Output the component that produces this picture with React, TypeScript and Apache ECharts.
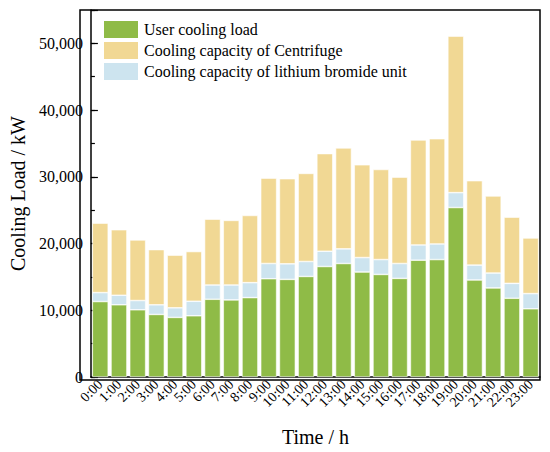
import React, { useEffect, useRef } from "react";
import * as echarts from "echarts";

const hours = ["0:00","1:00","2:00","3:00","4:00","5:00","6:00","7:00","8:00","9:00","10:00","11:00","12:00","13:00","14:00","15:00","16:00","17:00","18:00","19:00","20:00","21:00","22:00","23:00"];
const userLoad = [11310,10820,10070,9375,8930,9180,11650,11560,11900,14730,14630,15070,16560,17010,15730,15370,14780,17510,17600,25400,14540,13350,11800,10220];
const lithiumCapacity = [1340,1430,1390,1445,1440,2170,2140,2230,2240,2280,2330,2240,2290,2190,2170,2230,2230,2280,2340,2230,2230,2230,2230,2280];
const centrifugeCapacity = [10415,9820,9080,8270,7890,7450,9870,9680,10070,12800,12760,13200,14630,15130,13900,13500,12950,15730,15770,23460,12650,11550,9930,8330];

const names = ["User cooling load", "Cooling capacity of Centrifuge", "Cooling capacity of lithium bromide unit"];
const FONT = "'Liberation Serif', 'Times New Roman', serif";

const GRID = { left: 80, right: 10, top: 10, bottom: 72 };
const W = 550;
const H = 452;

export default function App() {
  const ref = useRef<HTMLDivElement>(null);
  useEffect(() => {
    document.body.style.margin = "0";
    const chart = echarts.init(ref.current!, null, { renderer: "svg" });
    chart.setOption({
      animation: false,
      textStyle: { fontFamily: FONT, color: "#000" },
      grid: GRID,
      graphic: [
        {
          type: "rect",
          z: 100,
          silent: true,
          shape: { x: GRID.left, y: GRID.top, width: W - GRID.left - GRID.right, height: H - GRID.top - GRID.bottom },
          style: { fill: "none", stroke: "#000", lineWidth: 1.5 },
        },
      ],
      legend: {
        data: names,
        orient: "vertical",
        left: 97,
        top: 14,
        itemWidth: 36,
        itemHeight: 19,
        itemGap: 0,
        icon: "rect",
        textStyle: { fontFamily: FONT, fontSize: 16, color: "#000" },
      },
      xAxis: {
        type: "category",
        data: hours,
        name: "Time / h",
        nameLocation: "middle",
        nameGap: 50,
        nameTextStyle: { fontFamily: FONT, fontSize: 20, color: "#000" },
        axisLine: { onZero: false, lineStyle: { color: "#000", width: 1.5 } },
        axisTick: { inside: true, alignWithLabel: true, length: 5, lineStyle: { color: "#000", width: 1.2 } },
        axisLabel: { rotate: 45, interval: 0, fontFamily: FONT, fontSize: 14, color: "#000", margin: 5 },
      },
      yAxis: [
        {
          type: "value",
          min: 0,
          max: 55000,
          interval: 5000,
          name: "Cooling Load / kW",
          nameLocation: "middle",
          nameGap: 54,
          nameTextStyle: { fontFamily: FONT, fontSize: 20, color: "#000" },
          splitLine: { show: false },
          axisLine: { show: true, onZero: false, lineStyle: { color: "#000", width: 1.5 } },
          axisTick: { show: true, inside: true, length: 4, lineStyle: { color: "#000", width: 1.2 } },
          axisLabel: {
            fontFamily: FONT,
            fontSize: 16,
            color: "#000",
            margin: 8,
            formatter: (v: number) => (v % 10000 === 0 && v <= 50000 ? v.toLocaleString("en-US") : ""),
          },
        },
        {
          type: "value",
          min: 0,
          max: 55000,
          interval: 10000,
          position: "left",
          splitLine: { show: false },
          axisLine: { show: false },
          axisTick: { show: true, inside: true, length: 7, lineStyle: { color: "#000", width: 1.2 } },
          axisLabel: { show: false },
        },
      ],
      series: [
        {
          name: names[0],
          type: "bar",
          stack: "total",
          data: userLoad,
          barCategoryGap: "15%",
          itemStyle: { color: "#8fbb47", borderColor: "#ffffff", borderWidth: 0.6 },
        },
        {
          name: names[2],
          type: "bar",
          stack: "total",
          data: lithiumCapacity,
          itemStyle: { color: "#cde4ef", borderColor: "#ffffff", borderWidth: 0.6 },
        },
        {
          name: names[1],
          type: "bar",
          stack: "total",
          data: centrifugeCapacity,
          itemStyle: { color: "#f1d894", borderColor: "#ffffff", borderWidth: 0.6 },
        },
      ],
    });
    return () => chart.dispose();
  }, []);
  return <div ref={ref} style={{ width: W, height: H }} />;
}
